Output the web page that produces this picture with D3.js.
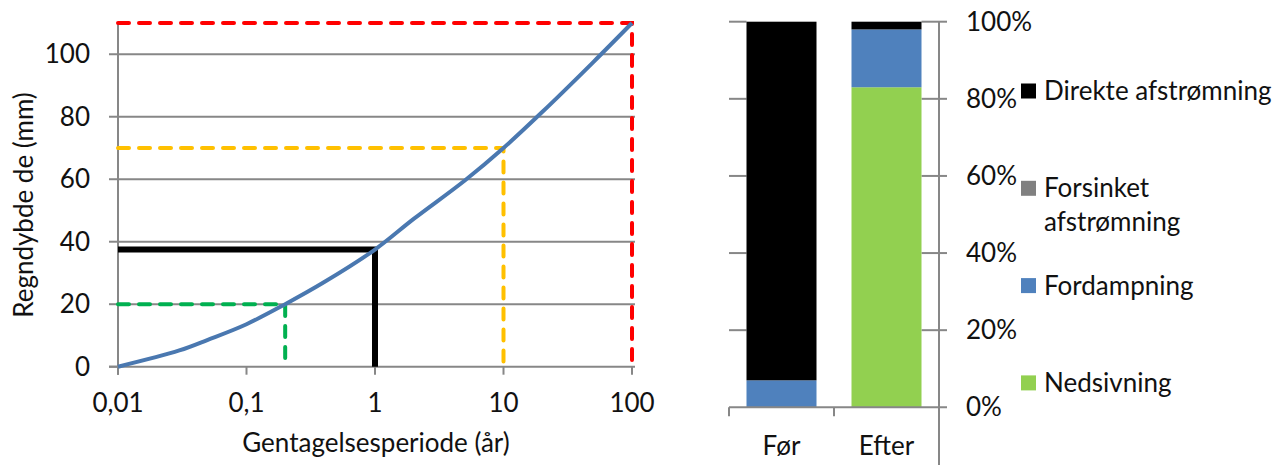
<!DOCTYPE html>
<html>
<head>
<meta charset="utf-8">
<script src="https://cdn.jsdelivr.net/npm/d3@7"></script>
<style>
  body { margin: 0; background: #fff; }
  svg text { font-family: Lato, "Open Sans", sans-serif; fill: #111; }
</style>
</head>
<body>
<svg id="chart" width="1278" height="465"></svg>
<script>
// --- data: rain depth vs. return period (log x) ---
const periods = [0.01, 0.03, 0.05, 0.1, 0.2, 0.4, 1, 2, 5, 10, 20, 50, 100];
const depths  = [0, 5.2, 8.6, 13.6, 20, 27, 37.5, 47.3, 59.6, 70, 81.5, 97.5, 110];
const xTicks = [0.01, 0.1, 1, 10, 100];
const xTickLabels = ["0,01", "0,1", "1", "10", "100"];
const yTicks = [0, 20, 40, 60, 80, 100];

// reference lines: [period, depth, colour, dashed]
const refPeriods = [0.2, 1, 10, 100];
const refDepths  = [20, 37.5, 70, 110];
const refColors  = ["#00b050", "#000000", "#ffc000", "#ff0000"];
const refDashed  = [true, false, true, true];

// --- data: water balance before/after (stacked %) ---
const categories = ["Før", "Efter"];
const seriesNames = ["Nedsivning", "Fordampning", "Forsinket afstrømning", "Direkte afstrømning"];
const seriesColors = ["#92d050", "#4f81bd", "#808080", "#000000"];
const nedsivning  = [0, 0.83];
const fordampning = [0.07, 0.15];
const forsinket   = [0, 0];
const direkte     = [0.93, 0.02];
const pctTicks = [0, 0.2, 0.4, 0.6, 0.8, 1];

const svg = d3.select("#chart");
const axisGrey = "#878787";
const fs = 26;

// ===== left chart =====
const x = d3.scaleLog().domain([0.01, 100]).range([118, 632]);
const y = d3.scaleLinear().domain([0, 110]).range([366.7, 23]);

const left = svg.append("g");

// gridlines
left.selectAll("line.grid")
  .data(yTicks.slice(1))
  .join("line")
  .attr("x1", x(0.01)).attr("x2", x(100) + 3)
  .attr("y1", d => y(d)).attr("y2", d => y(d))
  .attr("stroke", axisGrey).attr("stroke-width", 2);

// axes lines + ticks
left.append("line")
  .attr("x1", x(0.01)).attr("x2", x(0.01))
  .attr("y1", y(110)).attr("y2", y(0) + 8)
  .attr("stroke", axisGrey).attr("stroke-width", 2);
left.append("line")
  .attr("x1", x(0.01) - 9).attr("x2", x(100) + 3)
  .attr("y1", y(0)).attr("y2", y(0))
  .attr("stroke", axisGrey).attr("stroke-width", 2);
left.selectAll("line.yt")
  .data(yTicks)
  .join("line")
  .attr("x1", x(0.01) - 9).attr("x2", x(0.01))
  .attr("y1", d => y(d)).attr("y2", d => y(d))
  .attr("stroke", axisGrey).attr("stroke-width", 2);
left.selectAll("line.xt")
  .data(xTicks)
  .join("line")
  .attr("x1", d => x(d)).attr("x2", d => x(d))
  .attr("y1", y(0)).attr("y2", y(0) + 8)
  .attr("stroke", axisGrey).attr("stroke-width", 2);

// tick labels
left.selectAll("text.yl")
  .data(yTicks)
  .join("text")
  .attr("x", 90).attr("y", d => y(d))
  .attr("dy", "0.35em")
  .attr("text-anchor", "end")
  .attr("font-size", fs)
  .text(d => d);
left.selectAll("text.xl")
  .data(xTicks)
  .join("text")
  .attr("x", d => x(d)).attr("y", 403)
  .attr("dy", "0.35em")
  .attr("text-anchor", "middle")
  .attr("font-size", fs)
  .text((d, i) => xTickLabels[i]);

// axis titles
left.append("text")
  .attr("transform", "translate(33,205) rotate(-90)")
  .attr("text-anchor", "middle")
  .attr("font-size", fs)
  .text("Regndybde de (mm)");
left.append("text")
  .attr("x", 376).attr("y", 452)
  .attr("text-anchor", "middle")
  .attr("font-size", fs)
  .text("Gentagelsesperiode (år)");

// reference lines (from the y axis to the curve point, then down)
refPeriods.forEach((p, i) => {
  const pts = [[0.01, refDepths[i]], [p, refDepths[i]], [p, 0]];
  left.append("path")
    .attr("d", d3.line().x(d => x(d[0])).y(d => y(d[1]))(pts))
    .attr("fill", "none")
    .attr("stroke", refColors[i])
    .attr("stroke-width", refDashed[i] ? 4 : 6)
    .attr("stroke-linecap", refDashed[i] ? "round" : "butt")
    .attr("stroke-dasharray", refDashed[i] ? "11,10" : null);
});

// curve
const curvePts = periods.map((p, i) => [p, depths[i]]);
left.append("path")
  .attr("d", d3.line()
    .x(d => x(d[0])).y(d => y(d[1]))
    .curve(d3.curveCatmullRom.alpha(0.5))(curvePts))
  .attr("fill", "none")
  .attr("stroke", "#4a78b0")
  .attr("stroke-width", 4);

// ===== right chart: stacked bars =====
const xb = d3.scaleBand().domain(categories).range([729, 939])
  .paddingInner(1 / 3).paddingOuter(1 / 6);
const yb = d3.scaleLinear().domain([0, 1]).range([407.3, 21.7]);

const right = svg.append("g");

// gridline stubs (visible only outside the bars)
right.selectAll("line.gl")
  .data(pctTicks.slice(1))
  .join("line")
  .attr("x1", 729).attr("x2", xb("Før"))
  .attr("y1", d => yb(d)).attr("y2", d => yb(d))
  .attr("stroke", axisGrey).attr("stroke-width", 2);
right.selectAll("line.gr")
  .data(pctTicks.slice(1))
  .join("line")
  .attr("x1", xb("Efter") + xb.bandwidth()).attr("x2", 947)
  .attr("y1", d => yb(d)).attr("y2", d => yb(d))
  .attr("stroke", axisGrey).attr("stroke-width", 2);

const table = categories.map((c, i) => ({
  cat: c,
  "Nedsivning": nedsivning[i],
  "Fordampning": fordampning[i],
  "Forsinket afstrømning": forsinket[i],
  "Direkte afstrømning": direkte[i]
}));
const stacked = d3.stack().keys(seriesNames)(table);
const color = d3.scaleOrdinal().domain(seriesNames).range(seriesColors);

right.selectAll("g.layer")
  .data(stacked)
  .join("g")
  .attr("fill", d => color(d.key))
  .selectAll("rect")
  .data(d => d)
  .join("rect")
  .attr("x", d => xb(d.data.cat))
  .attr("width", xb.bandwidth())
  .attr("y", d => yb(d[1]))
  .attr("height", d => yb(d[0]) - yb(d[1]));

// axes
right.append("line")
  .attr("x1", 729).attr("x2", 947)
  .attr("y1", yb(0)).attr("y2", yb(0))
  .attr("stroke", axisGrey).attr("stroke-width", 2);
right.selectAll("line.ct")
  .data([729, 729 + xb.step()])
  .join("line")
  .attr("x1", d => d).attr("x2", d => d)
  .attr("y1", yb(0)).attr("y2", yb(0) + 9)
  .attr("stroke", axisGrey).attr("stroke-width", 2);
right.append("line")
  .attr("x1", 939).attr("x2", 939)
  .attr("y1", yb(1)).attr("y2", 465)
  .attr("stroke", axisGrey).attr("stroke-width", 2);

right.selectAll("text.pl")
  .data(pctTicks)
  .join("text")
  .attr("x", 966).attr("y", d => yb(d))
  .attr("dy", "0.35em")
  .attr("font-size", fs)
  .text(d => d3.format(".0%")(d));

right.selectAll("text.cl")
  .data(categories)
  .join("text")
  .attr("x", d => xb(d) + xb.bandwidth() / 2)
  .attr("y", 446)
  .attr("dy", "0.35em")
  .attr("text-anchor", "middle")
  .attr("font-size", fs)
  .text(d => d);

// legend (top to bottom: reverse of stack order)
const legendItems = seriesNames.slice().reverse();
const legend = right.append("g");
legendItems.forEach((name, i) => {
  const cy = 91 + i * 97.3;
  legend.append("rect")
    .attr("x", 1021).attr("y", cy - 7.5)
    .attr("width", 15).attr("height", 15)
    .attr("fill", color(name));
  const t = legend.append("text")
    .attr("x", 1044).attr("y", cy)
    .attr("font-size", fs);
  const words = name === "Forsinket afstrømning" ? ["Forsinket", "afstrømning"] : [name];
  words.forEach((w, j) => {
    t.append("tspan").attr("x", 1044).attr("dy", j === 0 ? "0.35em" : 34).text(w);
  });
});
</script>
</body>
</html>
